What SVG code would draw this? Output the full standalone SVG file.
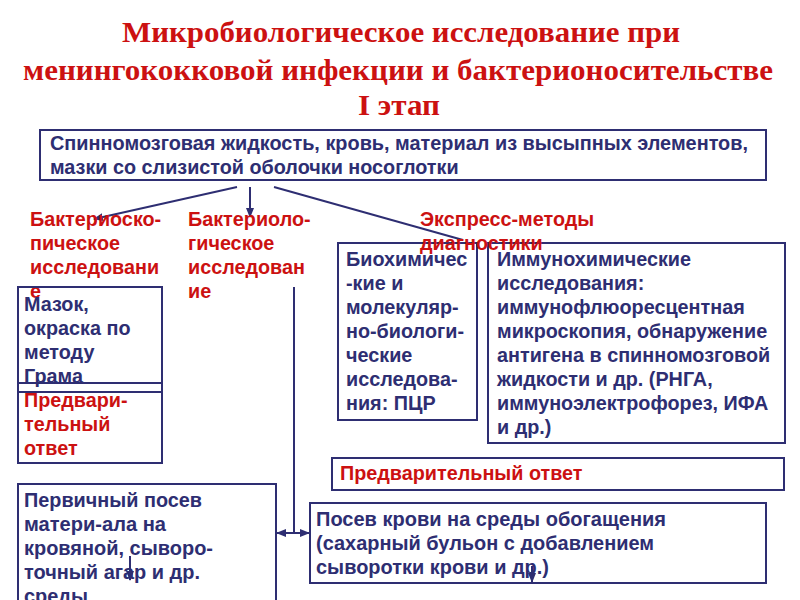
<svg xmlns="http://www.w3.org/2000/svg" width="800" height="600" viewBox="0 0 800 600">
<defs>
<marker id="ah" markerWidth="10" markerHeight="8" refX="9" refY="4" orient="auto" markerUnits="userSpaceOnUse">
<path d="M0,0 L10,4 L0,8 Z" fill="#2e2e72"/>
</marker>
<marker id="ahs" markerWidth="10" markerHeight="8" refX="1" refY="4" orient="auto" markerUnits="userSpaceOnUse">
<path d="M10,0 L0,4 L10,8 Z" fill="#2e2e72"/>
</marker>
<style>
.title{font-family:"Liberation Serif","DejaVu Serif",serif;font-weight:bold;font-size:30px;fill:#cc1111;text-anchor:middle}
.box{fill:none;stroke:#2e2e72;stroke-width:2}
.t{font-family:"Liberation Sans",Arial,sans-serif;font-weight:bold;font-size:19.8px;fill:#2e2e72}
.r{font-family:"Liberation Sans",Arial,sans-serif;font-weight:bold;font-size:19.8px;fill:#cc1111}
.n{font-family:"Liberation Sans",Arial,sans-serif;font-weight:bold;font-size:20px;fill:#2e2e72}
.ln{fill:none;stroke:#2e2e72;stroke-width:2}
</style>
</defs>
<rect width="800" height="600" fill="#ffffff"/>

<g id="title">
<text class="title" x="401" y="42" textLength="558" lengthAdjust="spacingAndGlyphs">Микробиологическое исследование при</text>
<text class="title" x="398" y="80" textLength="750" lengthAdjust="spacingAndGlyphs">менингококковой инфекции и бактерионосительстве</text>
<text class="title" x="399" y="115" textLength="82" lengthAdjust="spacingAndGlyphs">I этап</text>
</g>

<g id="connectors">
<line class="ln" x1="237" y1="187" x2="94" y2="219" marker-end="url(#ah)"/>
<line class="ln" x1="250" y1="187" x2="250" y2="217" marker-end="url(#ah)"/>
<line class="ln" x1="274" y1="187" x2="463" y2="240"/>
<line class="ln" x1="294" y1="287" x2="294" y2="533"/>
<line class="ln" x1="277" y1="533" x2="309" y2="533" marker-start="url(#ahs)" marker-end="url(#ah)"/>
<line class="ln" x1="130" y1="556" x2="130" y2="580" marker-end="url(#ah)"/>
<line class="ln" x1="532" y1="566" x2="532" y2="582" marker-end="url(#ah)"/>
</g>

<g id="source">
<rect class="box" x="40" y="130" width="726" height="50"/>
<text class="t" x="50" y="150" textLength="698" lengthAdjust="spacingAndGlyphs">Спинномозговая жидкость, кровь, материал из высыпных элементов,</text>
<text class="t" x="50" y="174">мазки со слизистой оболочки носоглотки</text>
</g>

<g id="label-bacterioscopy">
<text class="r" x="30" y="226">Бактериоско-</text>
<text class="r" x="30" y="250">пическое</text>
<text class="r" x="30" y="274">исследовани</text>
<text class="r" x="30" y="298">е</text>
</g>

<g id="label-bacteriology">
<text class="r" x="188" y="226">Бактериоло-</text>
<text class="r" x="188" y="250">гическое</text>
<text class="r" x="188" y="274">исследован</text>
<text class="r" x="188" y="298">ие</text>
</g>

<g id="smear">
<rect class="box" x="18" y="287" width="144" height="105"/>
<text class="t" x="24" y="311">Мазок,</text>
<text class="t" x="24" y="335">окраска по</text>
<text class="t" x="24" y="359">методу</text>
<text class="t" x="24" y="383">Грама</text>
</g>

<g id="smear-answer">
<rect class="box" x="18" y="383" width="144" height="80"/>
<text class="r" x="24" y="407">Предвари-</text>
<text class="r" x="24" y="431">тельный</text>
<text class="r" x="24" y="455">ответ</text>
</g>

<g id="biochem">
<rect class="box" x="338" y="243" width="139" height="177"/>
<text class="t" x="346" y="266">Биохимичес</text>
<text class="t" x="346" y="290">-кие и</text>
<text class="t" x="346" y="314">молекуляр-</text>
<text class="t" x="346" y="338">но-биологи-</text>
<text class="t" x="346" y="362">ческие</text>
<text class="t" x="346" y="386">исследова-</text>
<text class="t" x="346" y="410">ния: ПЦР</text>
</g>

<g id="immunochem">
<rect class="box" x="488" y="243" width="297" height="200"/>
<text class="t" x="497" y="266">Иммунохимические</text>
<text class="t" x="497" y="290">исследования:</text>
<text class="t" x="497" y="314">иммунофлюоресцентная</text>
<text class="t" x="497" y="338">микроскопия, обнаружение</text>
<text class="t" x="497" y="362">антигена в спинномозговой</text>
<text class="t" x="497" y="386">жидкости и др. (РНГА,</text>
<text class="t" x="497" y="410">иммуноэлектрофорез, ИФА</text>
<text class="t" x="497" y="434">и др.)</text>
</g>

<g id="label-express">
<text class="r" x="420" y="226">Экспресс-методы</text>
<text class="r" x="420" y="250">диагностики</text>
</g>

<g id="express-answer">
<rect class="box" x="332" y="458" width="452" height="32"/>
<text class="r" x="340" y="480">Предварительный ответ</text>
</g>

<g id="primary-culture">
<path class="box" d="M18,602 V484 H276 V602"/>
<text class="n" x="24" y="507" textLength="178" lengthAdjust="spacingAndGlyphs">Первичный посев</text>
<text class="n" x="24" y="531" textLength="142" lengthAdjust="spacingAndGlyphs">матери-ала на</text>
<text class="n" x="24" y="555" textLength="189" lengthAdjust="spacingAndGlyphs">кровяной, сыворо-</text>
<text class="n" x="24" y="579" textLength="176" lengthAdjust="spacingAndGlyphs">точный агар и др.</text>
<text class="n" x="24" y="603" textLength="64" lengthAdjust="spacingAndGlyphs">среды</text>
</g>

<g id="blood-culture">
<rect class="box" x="310" y="503" width="456" height="80"/>
<text class="n" x="316" y="526" textLength="350" lengthAdjust="spacingAndGlyphs">Посев крови на среды обогащения</text>
<text class="n" x="316" y="550" textLength="338" lengthAdjust="spacingAndGlyphs">(сахарный бульон с добавлением</text>
<text class="n" x="316" y="574" textLength="233" lengthAdjust="spacingAndGlyphs">сыворотки крови и др.)</text>
</g>
</svg>
